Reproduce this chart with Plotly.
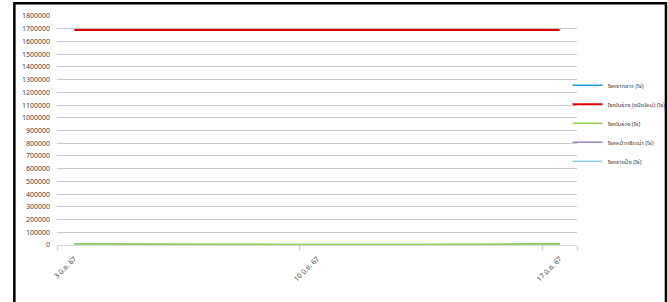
import plotly.graph_objects as go

dates = ["3 มิ.ย. 67", "4 มิ.ย. 67", "5 มิ.ย. 67", "6 มิ.ย. 67", "7 มิ.ย. 67",
         "8 มิ.ย. 67", "9 มิ.ย. 67", "10 มิ.ย. 67", "11 มิ.ย. 67", "12 มิ.ย. 67",
         "13 มิ.ย. 67", "14 มิ.ย. 67", "15 มิ.ย. 67", "16 มิ.ย. 67", "17 มิ.ย. 67"]
tick_labels = ["3 มิ.ย. 67", "10 มิ.ย. 67", "17 มิ.ย. 67"]

s_white_root = [2000, 2000, 2000, 2000, 2000, 2000, 2000, 2000, 2000, 2000, 2000, 2000, 2000, 2000, 2000]
s_new_leaf_fall = [1690000, 1690000, 1690000, 1690000, 1690000, 1690000, 1690000, 1690000,
                   1690000, 1690000, 1690000, 1690000, 1690000, 1690000, 1690000]
s_leaf_fall = [9000, 9000, 9000, 9000, 8000, 6000, 3000, 2000, 2000, 2000, 3000, 6000, 9000, 9000, 9000]
s_panel_rot = [500, 500, 500, 500, 500, 500, 500, 500, 500, 500, 500, 500, 500, 500, 500]
s_powdery = [3500, 3500, 3500, 3500, 3500, 3500, 3500, 3500, 3500, 3500, 3500, 3500, 3500, 3500, 3500]

names = ["โรครากขาว (ไร่)", "โรคใบร่วง (ชนิดใหม่) (ไร่)", "โรคใบร่วง (ไร่)",
         "โรคหน้ากรีดเน่า (ไร่)", "โรคราแป้ง (ไร่)"]
series = [s_white_root, s_new_leaf_fall, s_panel_rot, s_powdery, s_leaf_fall]
order_names = [names[0], names[1], names[3], names[4], names[2]]
order_colors = ["#1F9ADB", "#E00000", "#9C84C8", "#8FCFE3", "#92D050"]
legend_rank = [1, 2, 4, 5, 3]
widths = [1.5, 2, 1.5, 1.5, 1.5]

FONT = "Noto Sans Thai, Tahoma, Noto Sans, DejaVu Sans, sans-serif"

fig = go.Figure()
for n, s, c, w, r in zip(order_names, series, order_colors, widths, legend_rank):
    fig.add_trace(go.Scatter(x=dates, y=s, mode="lines", name=n, legendrank=r,
                             line=dict(color=c, width=w)))

fig.update_layout(
    width=668, height=302,
    margin=dict(l=57, r=91, t=16, b=57, autoexpand=False),
    paper_bgcolor="white", plot_bgcolor="white",
    font=dict(family=FONT, size=7, color="#404040"),
    showlegend=True,
    legend=dict(x=0.982, xanchor="left", y=0.761, yanchor="top",
                font=dict(size=6, color="#404040"),
                bgcolor="rgba(0,0,0,0)", itemwidth=30, traceorder="normal"),
    xaxis=dict(type="category", categoryorder="array", categoryarray=dates,
               tickmode="array", tickvals=tick_labels, ticktext=tick_labels,
               tickangle=-45, showgrid=False, showline=True, automargin=False,
               linecolor="#d9d9d9", linewidth=1, ticks="outside",
               ticklen=4, tickcolor="#bfbfbf", zeroline=False, tickson="boundaries",
               ticklabelstandoff=6,
               range=[-0.5, 14.5], tickfont=dict(size=7, color="#404040")),
    yaxis=dict(range=[0, 1800000], tickmode="linear", tick0=0, dtick=100000,
               tickformat="d", showgrid=True, gridcolor="#c8c8c8", gridwidth=1,
               zeroline=False, showline=False, ticks="", automargin=False,
               ticklabelstandoff=6,
               tickfont=dict(size=7, color="#404040")),
    shapes=[dict(type="rect", xref="paper", yref="paper",
                 x0=-0.082, x1=1.171, y0=-0.3, y1=1.056,
                 line=dict(color="black", width=2.5), layer="above")],
)

fig.write_html("out.html", config={"displayModeBar": False},
               post_script="document.body.style.margin='0';document.body.style.padding='0';")
